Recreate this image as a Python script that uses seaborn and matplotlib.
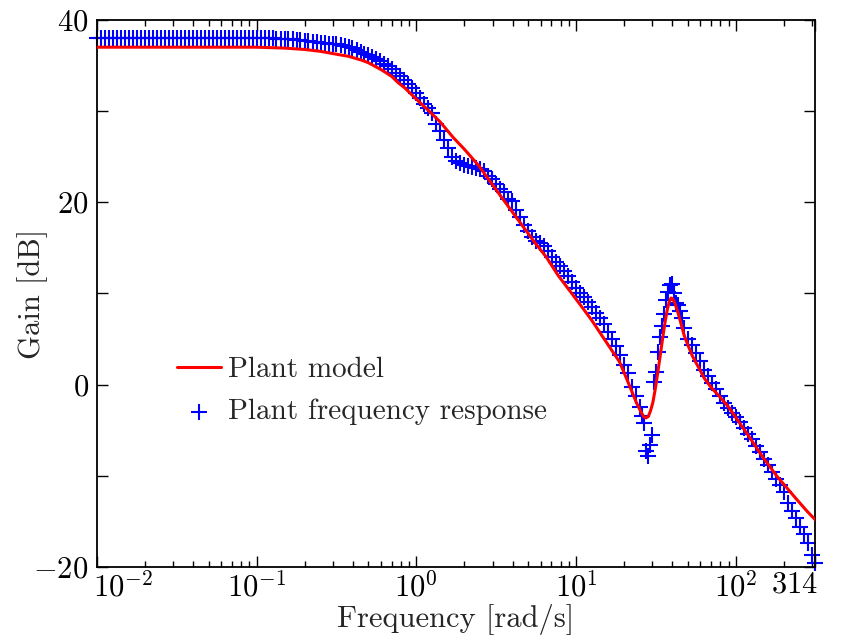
import numpy as np
import pandas as pd
import matplotlib
matplotlib.use("Agg")
import matplotlib.pyplot as plt
import matplotlib.transforms as mtransforms
from matplotlib.ticker import FixedLocator, FuncFormatter, LogLocator, NullFormatter
import seaborn as sns

# ---------------- data ----------------
# Plant model (smooth curve)
model_freq = [0.01, 0.02, 0.05, 0.1, 0.15, 0.2, 0.25, 0.3, 0.376, 0.45, 0.5, 0.607, 0.7, 0.77,
              0.85, 1.0, 1.2, 1.41, 1.7, 2.0, 2.46, 3.0, 3.4, 4.0, 5.0, 5.5, 6.5, 7.7, 9.3, 11.0,
              12.6, 15.0, 18.7, 21.0, 23.9, 25.5, 26.5, 27.4, 28.3, 29.2, 30.2, 31.3, 32.5, 33.7,
              34.9, 36.0, 37.2, 38.3, 39.3, 40.3, 41.4, 42.9, 44.4, 46.0, 47.5, 50.5, 53.6, 58.0,
              63.5, 70.0, 80.0, 89.5, 100, 120, 147, 180, 241, 280, 314]
model_gain = [37.0, 37.0, 37.0, 37.0, 36.9, 36.75, 36.55, 36.3, 36.0, 35.6, 35.3, 34.5, 33.8, 33.1,
              32.5, 31.3, 30.0, 28.8, 27.1, 25.8, 24.0, 21.9, 20.6, 18.9, 16.6, 15.6, 14.0, 12.0, 10.1, 8.4,
              7.0, 5.0, 2.5, 0.4, -2.0, -3.0, -3.5, -3.65, -3.5, -2.9, -2.0, -0.5, 1.4, 3.3,
              5.2, 6.8, 8.2, 9.1, 9.5, 9.4, 9.0, 8.2, 7.3, 6.3, 5.4, 4.2, 3.1, 2.0,
              0.7, -0.3, -1.4, -2.4, -3.6, -5.6, -7.9, -10.0, -12.6, -13.9, -14.8]

# Measured plant frequency response
meas_freq = [
    0.0100, 0.0106, 0.0112, 0.0119, 0.0126, 0.0133, 0.0141, 0.0150, 0.0158, 0.0168,
    0.0178, 0.0188, 0.0200, 0.0211, 0.0224, 0.0237, 0.0251, 0.0266, 0.0282, 0.0299,
    0.0316, 0.0335, 0.0355, 0.0376, 0.0398, 0.0422, 0.0447, 0.0473, 0.0501, 0.0531,
    0.0562, 0.0596, 0.0631, 0.0668, 0.0708, 0.0750, 0.0794, 0.0841, 0.0891, 0.0944,
    0.100, 0.106, 0.112, 0.119, 0.126, 0.133, 0.141, 0.150, 0.158, 0.168,
    0.178, 0.188, 0.200, 0.211, 0.224, 0.237, 0.251, 0.266, 0.282, 0.299,
    0.316, 0.335, 0.355, 0.376, 0.398, 0.422, 0.447, 0.473, 0.501, 0.531,
    0.562, 0.596, 0.631, 0.668, 0.708, 0.750, 0.794, 0.841, 0.891, 0.944,
    1.000, 1.059, 1.122, 1.189, 1.259, 1.334, 1.413, 1.496, 1.585, 1.679,
    1.778, 1.884, 1.995, 2.113, 2.239, 2.371, 2.512, 2.661, 2.818, 2.985,
    3.162, 3.350, 3.548, 3.758, 3.981, 4.217, 4.467, 4.732, 5.012, 5.309,
    5.623, 5.957, 6.310, 6.683, 7.079, 7.499, 7.943, 8.414, 8.913, 9.441,
    10.00, 10.59, 11.22, 11.89, 12.59, 13.34, 14.13, 14.96, 15.85, 16.79,
    17.78, 18.84, 19.95, 21.13, 22.39, 23.71, 25.12, 25.90, 26.61, 27.40,
    28.18, 29.00, 29.85, 30.70, 31.62, 32.50, 33.50, 34.50, 35.48, 36.50,
    37.58, 38.70, 39.81, 41.00, 42.17, 43.40, 44.67, 46.00, 47.32, 50.12,
    53.09, 56.23, 59.57, 63.10, 66.83, 70.79, 74.99, 79.43, 84.14, 89.13, 94.41,
    100.0, 105.9, 112.2, 118.9, 125.9, 133.4, 141.3, 149.6, 158.5, 167.9,
    177.8, 188.4, 199.5, 211.3, 223.9, 237.1, 251.2, 266.1, 281.8, 298.5, 314.0]
meas_gain = [
    38.0, 38.0, 38.0, 38.0, 38.0, 38.0, 38.0, 38.0, 38.0, 38.0,
    38.0, 38.0, 38.0, 38.0, 38.0, 38.0, 38.0, 38.0, 38.0, 38.0,
    38.0, 38.0, 38.0, 38.0, 38.0, 38.0, 38.0, 38.0, 38.0, 38.0,
    38.0, 38.0, 38.0, 38.0, 38.0, 38.0, 38.0, 38.0, 38.0, 38.0,
    38.0, 38.0, 38.0, 38.0, 38.0, 37.9, 37.9, 37.9, 37.9, 37.9,
    37.8, 37.8, 37.7, 37.7, 37.6, 37.6, 37.5, 37.5, 37.4, 37.3,
    37.3, 37.2, 37.1, 37.0, 36.9, 36.7, 36.5, 36.3, 36.1, 35.9,
    35.7, 35.5, 35.2, 34.9, 34.6, 34.2, 33.8, 33.4, 33.0, 32.5,
    32.0, 31.4, 30.8, 30.3, 29.8, 28.6, 27.8, 26.8, 26.0, 25.0,
    24.5, 24.3, 24.1, 24.0, 23.9, 23.8, 23.6, 23.4, 22.9, 22.5,
    22.0, 21.5, 21.1, 20.4, 20.1, 19.2, 18.4, 17.5, 16.8, 16.2,
    15.8, 15.5, 15.2, 14.6, 14.0, 13.5, 13.0, 12.5, 11.9, 11.2,
    10.6, 10.1, 9.6, 9.1, 8.5, 7.9, 7.3, 6.6, 5.8, 5.0,
    4.2, 3.3, 2.2, 1.3, -0.3, -1.2, -2.5, -3.4, -4.2, -7.3,
    -7.8, -6.6, -5.5, 0.3, 1.4, 3.6, 5.2, 6.4, 7.8, 9.3,
    10.2, 10.9, 11.0, 10.1, 9.0, 8.7, 8.1, 7.3, 6.2, 5.0,
    4.3, 3.5, 2.6, 1.6, 0.9, 0.2, -0.5, -1.2, -2.0, -2.6, -3.1,
    -3.5, -4.1, -4.8, -5.4, -6.0, -6.7, -7.4, -8.1, -8.8, -9.6,
    -10.4, -11.0, -11.8, -13.0, -13.9, -14.6, -15.6, -16.4, -17.4, -18.7, -19.6]

x_tick_values = [0.01, 0.1, 1, 10, 100, 314]
x_tick_labels = [r"$10^{-2}$", r"$10^{-1}$", r"$10^{0}$", r"$10^{1}$", r"$10^{2}$", r"$314$"]
y_tick_values = [-20, -10, 0, 10, 20, 30, 40]
y_labelled = [-20, 0, 20, 40]

model_df = pd.DataFrame({"freq": model_freq, "gain": model_gain})
meas_df = pd.DataFrame({"freq": meas_freq, "gain": meas_gain})

# ---------------- style ----------------
sns.set_style("ticks")
plt.rcParams["font.family"] = ["cmr10", "DejaVu Serif"]
plt.rcParams["mathtext.fontset"] = "cm"
plt.rcParams["axes.formatter.use_mathtext"] = True
plt.rcParams["axes.unicode_minus"] = True
FS = 22

fig = plt.figure(figsize=(8.41, 6.40), dpi=100)
ax = fig.add_axes([0.1153, 0.114, 0.854, 0.855])

sns.scatterplot(data=meas_df, x="freq", y="gain", marker="+", s=140, color="#0000ff",
                linewidth=1.5, ax=ax, clip_on=False, zorder=2, label="Plant frequency response")
sns.lineplot(data=model_df, x="freq", y="gain", color="#ff0000", linewidth=2.2,
             ax=ax, zorder=3, label="Plant model", sort=False)

ax.set_xscale("log")
ax.set_xlim(0.01, 314)
ax.set_ylim(-20, 40)

ax.xaxis.set_major_locator(FixedLocator(x_tick_values))
ax.set_xticklabels(x_tick_labels)
ax.xaxis.set_minor_locator(LogLocator(base=10, subs=np.arange(2, 10), numticks=50))
ax.xaxis.set_minor_formatter(NullFormatter())

ax.yaxis.set_major_locator(FixedLocator(y_tick_values))
ax.yaxis.set_major_formatter(FuncFormatter(
    lambda v, p: (r"$%d$" % v) if int(round(v)) in y_labelled else ""))

ax.tick_params(which="both", direction="in", top=True, right=True, width=1.0,
               labelsize=FS, colors="black")
ax.tick_params(axis="x", which="major", pad=3)
ax.tick_params(axis="y", which="major", pad=6)
ax.tick_params(which="major", length=8)
ax.tick_params(which="minor", length=4)
for sp in ax.spines.values():
    sp.set_linewidth(1.3)
    sp.set_color("black")

xt = ax.get_xticklabels()
xt[0].set_horizontalalignment("left")
xt[0].set_transform(xt[0].get_transform() +
                    mtransforms.ScaledTranslation(-4 / 100, 0, fig.dpi_scale_trans))
xt[-1].set_horizontalalignment("right")
xt[-1].set_transform(xt[-1].get_transform() +
                     mtransforms.ScaledTranslation(3 / 100, 0, fig.dpi_scale_trans))

ax.set_xlabel("Frequency [rad/s]", fontsize=FS)
ax.xaxis.set_label_coords(0.5, -0.068, transform=ax.transAxes)
ax.xaxis.label.set_va("top")
ax.set_ylabel("Gain [dB]", fontsize=FS)
ax.yaxis.set_label_coords(-0.068, 0.5)

handles, labels = ax.get_legend_handles_labels()
order = [labels.index("Plant model"), labels.index("Plant frequency response")]
leg = ax.legend([handles[i] for i in order], [labels[i] for i in order],
                loc="center left", bbox_to_anchor=(0.112, 0.322), frameon=False,
                fontsize=21, handlelength=1.5, handletextpad=0.25, labelspacing=0.55,
                borderaxespad=0, borderpad=0, markerscale=1.0)

fig.savefig("out.png", dpi=100)
